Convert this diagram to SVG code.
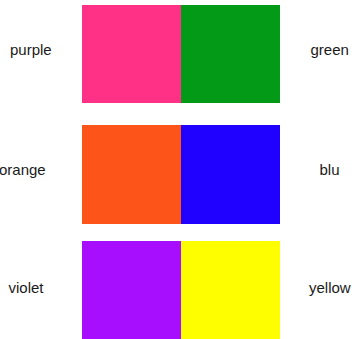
<svg xmlns="http://www.w3.org/2000/svg" width="352" height="339" viewBox="0 0 352 339">
<style>
text{font-family:"Liberation Sans",Arial,sans-serif;font-size:15px;fill:#1a1a1a}
</style>
<rect width="352" height="339" fill="#ffffff"/>
<g id="purple">
<rect x="82" y="5" width="99" height="98" fill="#fe3186"/>
<text x="10" y="55">purple</text>
</g>
<g id="green">
<rect x="181" y="5" width="99" height="98" fill="#039a17"/>
<text x="310.5" y="55">green</text>
</g>
<g id="orange">
<rect x="82" y="125" width="99" height="99" fill="#fc5419"/>
<text x="-1" y="175">orange</text>
</g>
<g id="blu">
<rect x="181" y="125" width="99" height="99" fill="#2000fe"/>
<text x="319.5" y="175">blu</text>
</g>
<g id="violet">
<rect x="82" y="241" width="99" height="98" fill="#a80efe"/>
<text x="8.5" y="293">violet</text>
</g>
<g id="yellow">
<rect x="181" y="241" width="99" height="98" fill="#fefe00"/>
<text x="309" y="293">yellow</text>
</g>
<g id="connectors"></g>
</svg>
